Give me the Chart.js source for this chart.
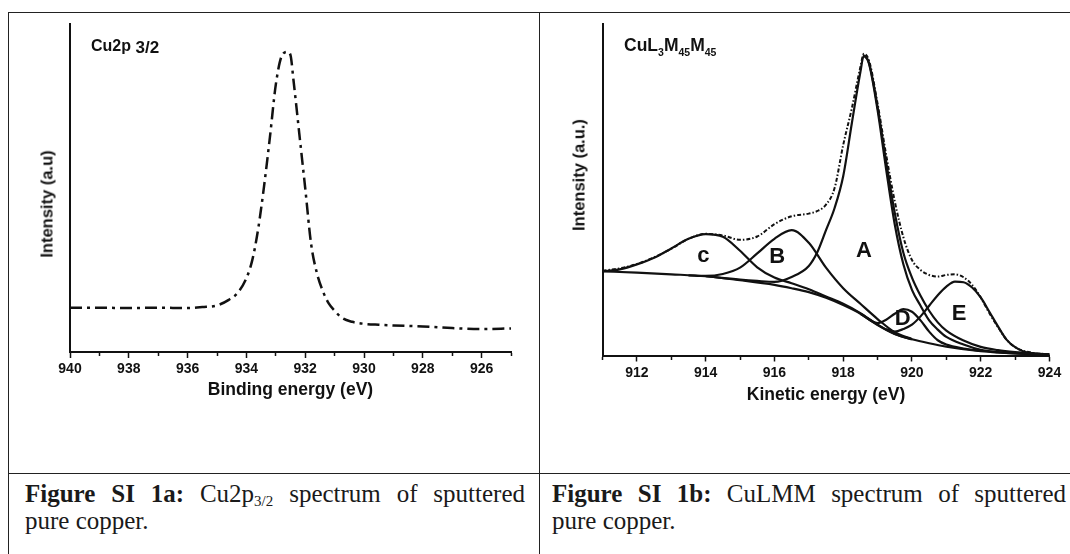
<!DOCTYPE html>
<html>
<head>
<meta charset="utf-8">
<script src="https://cdn.jsdelivr.net/npm/chart.js@4.4.1/dist/chart.umd.min.js"></script>
<style>
  html, body { margin: 0; padding: 0; background: #fff; }
  body { position: relative; width: 1070px; height: 554px; overflow: hidden;
         font-family: "Liberation Sans", Arial, sans-serif; color: #111; }
  .rule { position: absolute; background: #222; }
  canvas { position: absolute; top: 0; }
  #cu2p { left: 0; }
  #culmm { left: 540px; }
  .head { position: absolute; font-weight: bold; line-height: 17px; white-space: nowrap; }
  .head sub { font-size: 10.5px; vertical-align: -5px; line-height: 0; }
  .ytitle { position: absolute; font-weight: bold; font-size: 16.5px; white-space: nowrap;
            transform: translate(-50%, -50%) rotate(-90deg); }
  .caption { position: absolute; top: 480px; font-family: "Liberation Serif", "Times New Roman", serif;
             font-size: 25px; line-height: 27px; color: #1a1a1a; }
  .caption .l1 { text-align: justify; text-align-last: justify; }
  .caption sub { font-size: 15px; vertical-align: -4px; line-height: 0; }
</style>
</head>
<body>
<div class="rule" style="left:8px; top:12px; width:1062px; height:1px;"></div>
<div class="rule" style="left:8px; top:12px; width:1px; height:542px;"></div>
<div class="rule" style="left:539px; top:12px; width:1px; height:542px;"></div>
<div class="rule" style="left:8px; top:473px; width:1062px; height:1px;"></div>

<canvas id="cu2p" width="530" height="410"></canvas>
<canvas id="culmm" width="530" height="410"></canvas>

<div class="head" style="left:91px; top:37px; font-size:16px;">Cu2p <span style="font-size:17px; position:relative; top:2px;">3/2</span></div>
<div class="head" style="left:624px; top:37px; font-size:17.5px;">CuL<sub>3</sub>M<sub>45</sub>M<sub>45</sub></div>

<div class="ytitle" style="left:47px; top:204px;">Intensity (a.u)</div>
<div class="ytitle" style="left:579px; top:175px;">Intensity (a.u.)</div>

<div class="caption" style="left:25px; width:500px;">
  <div class="l1"><b>Figure SI 1a:</b> Cu2p<sub>3/2</sub> spectrum of sputtered</div>
  <div>pure copper.</div>
</div>
<div class="caption" style="left:552px; width:514px;">
  <div class="l1"><b>Figure SI 1b:</b> CuLMM spectrum of sputtered</div>
  <div>pure copper.</div>
</div>

<script>
// --- Cu2p3/2 (binding energy, reversed axis) ---
const bindingEnergy = [940, 939, 938, 937, 936, 935.5, 935, 934.6, 934.3, 934.0, 933.8, 933.6, 933.4, 933.2,
  933.0, 932.8, 932.6, 932.5, 932.4, 932.2, 932.0, 931.8, 931.6, 931.4, 931.2, 931.0, 930.75, 930.4,
  930.0, 929.5, 929, 928, 927, 926, 925];
const cu2pIntensity = [13.5, 13.5, 13.4, 13.5, 13.4, 13.7, 14.2, 15.9, 18.0, 22.5, 28.0, 37.5, 50.5, 65.5,
  81.5, 90.2, 91.5, 90.5, 83.0, 66.5, 50.0, 33.0, 24.0, 18.6, 14.8, 12.6, 10.4, 9.2,
  8.6, 8.3, 8.1, 7.8, 7.3, 7.0, 7.2];
const bindingTicks = [925, 926, 927, 928, 929, 930, 931, 932, 933, 934, 935, 936, 937, 938, 939, 940];

// --- CuL3M45M45 (kinetic energy) ---
const kineticTicks = [911, 912, 913, 914, 915, 916, 917, 918, 919, 920, 921, 922, 923, 924];

const backgroundX = [911, 912, 913, 914, 915, 916, 916.5, 917, 917.5, 918, 918.5, 919, 919.5, 920, 920.5, 921, 922, 923, 924];
const backgroundY = [25.4, 25.0, 24.5, 23.9, 22.7, 21.3, 20.3, 19.1, 17.4, 15.2, 12.6, 9.2, 6.5, 4.9, 3.7, 2.7, 1.3, 0.6, 0.3];

const peakCX = [911, 911.5, 912, 912.5, 913, 913.5, 914, 914.5, 915, 915.5, 916, 916.5, 917, 917.5, 918, 918.5, 919, 919.5, 920];
const peakCY = [25.4, 26.0, 27.5, 29.5, 32.3, 35.2, 36.6, 35.8, 31.6, 26.6, 23.5, 21.8, 20.0, 17.8, 15.6, 12.8, 9.3, 6.5, 4.9];

const peakBX = [913.5, 914, 914.5, 915, 915.5, 916, 916.5, 917, 917.5, 918, 918.5, 919, 919.5, 920];
const peakBY = [24.2, 24.0, 24.6, 26.5, 30.8, 35.2, 37.8, 34.0, 26.5, 20.3, 15.6, 11.0, 7.0, 5.0];

const peakAX = [914, 915, 915.5, 916, 916.5, 917, 917.25, 917.5, 917.75, 918, 918.25, 918.5, 918.6, 918.75,
  919, 919.25, 919.5, 919.75, 920, 920.25, 920.5, 920.75, 921, 921.5, 922, 922.5, 923, 924];
const peakAY = [23.9, 22.9, 22.5, 22.2, 23.7, 27.0, 31.2, 37.8, 44.5, 54.1, 70.0, 85.5, 90.5, 88.0,
  74.0, 56.1, 39.5, 27.5, 19.8, 15.0, 10.6, 7.8, 5.6, 3.3, 1.7, 1.0, 0.6, 0.3];

const peakA2X = [918.6, 918.75, 919, 919.25, 919.5, 919.75, 920, 920.25, 920.5, 920.75, 921, 921.5, 922, 922.5, 923, 923.5, 924];
const peakA2Y = [90.5, 88.3, 75.0, 58.5, 43.0, 31.0, 23.5, 18.0, 13.5, 10.0, 7.5, 4.5, 2.6, 1.6, 1.0, 0.6, 0.3];

const peakDX = [918.5, 919, 919.25, 919.5, 919.75, 920, 920.25, 920.5, 920.75, 921, 921.5, 922];
const peakDY = [12.6, 9.8, 10.8, 12.6, 14.0, 13.2, 10.6, 7.2, 4.6, 3.3, 2.1, 1.4];

const peakEX = [919.25, 919.5, 919.75, 920, 920.25, 920.5, 920.75, 921, 921.25, 921.5, 921.75, 922, 922.25,
  922.5, 922.75, 923, 923.25, 923.5, 924];
const peakEY = [8.0, 7.2, 8.0, 9.3, 11.8, 15.0, 18.2, 20.8, 22.3, 22.1, 20.5, 17.5, 13.2,
  8.8, 4.8, 2.5, 1.2, 0.7, 0.3];

const envelopeX = [911, 911.5, 912, 912.5, 913, 913.5, 914, 914.5, 915, 915.5, 916, 916.5, 917, 917.25, 917.5,
  917.75, 918, 918.25, 918.5, 918.6, 918.75, 919, 919.25, 919.5, 919.75, 920, 920.25, 920.5, 920.75, 921,
  921.25, 921.5, 921.75, 922, 922.25, 922.5, 922.75, 923, 923.5, 924];
const envelopeY = [25.6, 26.3, 27.6, 29.6, 32.2, 35.2, 36.7, 36.2, 34.9, 35.9, 39.6, 42.0, 42.8, 43.6, 45.5,
  50.5, 63.5, 74.5, 87.0, 91.0, 89.0, 76.0, 60.5, 46.5, 35.7, 28.8, 25.8, 24.3, 23.8, 24.3,
  24.5, 23.6, 21.3, 17.5, 12.8, 8.6, 4.8, 2.5, 0.8, 0.4];

const peakNames = ['c', 'B', 'A', 'D', 'E'];
const peakNameX = [913.93, 916.08, 918.6, 919.73, 921.37];
const peakNameY = [30.0, 29.6, 31.6, 11.1, 12.6];

const ink = '#111';
Chart.defaults.font.family = '"Liberation Sans", Arial, sans-serif';
Chart.defaults.color = ink;

function pts(xs, ys) {
  return xs.map((x, i) => ({ x: x, y: ys[i] }));
}

function xAxis(o) {
  return {
    type: 'linear',
    min: o.min,
    max: o.max,
    reverse: !!o.reverse,
    afterBuildTicks: s => { s.ticks = o.ticks.map(v => ({ value: v })); },
    afterFit: s => { s.height = o.height; },
    grid: {
      display: true,
      drawOnChartArea: false,
      drawTicks: true,
      tickLength: 6,
      tickWidth: 1.5,
      tickColor: ink,
      // odd values are minor ticks: only the first 3px of the mark is drawn
      tickBorderDash: c => (c.tick && c.tick.value % 2 !== 0) ? [3, 12] : []
    },
    border: { display: true, color: ink, width: 2 },
    ticks: {
      autoSkip: false,
      maxRotation: 0,
      padding: 3,
      color: ink,
      font: { size: 14, weight: 'bold' },
      callback: v => (v % 2 === 0 ? String(v) : '')
    },
    title: {
      display: true,
      text: o.title,
      color: ink,
      font: { size: 17.5, weight: 'bold' },
      padding: { top: 0, bottom: o.titlePad }
    }
  };
}

function yAxis(width) {
  return {
    type: 'linear',
    min: 0,
    max: 100,
    afterFit: s => { s.width = width; },
    grid: { display: false, drawTicks: false },
    ticks: { display: false },
    border: { display: true, color: ink, width: 2 }
  };
}

const baseOptions = {
  responsive: false,
  animation: false,
  devicePixelRatio: 1,
  plugins: { legend: { display: false }, tooltip: { enabled: false } },
  elements: { point: { radius: 0 }, line: { cubicInterpolationMode: 'monotone' } }
};

// left: Cu2p 3/2
new Chart(document.getElementById('cu2p'), {
  type: 'line',
  data: {
    datasets: [{
      data: pts(bindingEnergy, cu2pIntensity),
      borderColor: ink,
      borderWidth: 2.5,
      borderDash: [12, 5, 3, 5]
    }]
  },
  options: Object.assign({}, baseOptions, {
    layout: { padding: { top: 24, right: 19, left: 0, bottom: 0 } },
    scales: {
      x: xAxis({ min: 925, max: 940, reverse: true, ticks: bindingTicks, height: 58,
                 title: 'Binding energy (eV)', titlePad: 9.5 }),
      y: yAxis(70)
    }
  })
});

// peak letters placed through the chart's own scales
const peakLabelPlugin = {
  id: 'peakLabels',
  afterDatasetsDraw(chart) {
    const { ctx, scales: { x, y } } = chart;
    ctx.save();
    ctx.font = 'bold 22px "Liberation Sans", Arial, sans-serif';
    ctx.fillStyle = ink;
    ctx.textAlign = 'center';
    ctx.textBaseline = 'middle';
    peakNames.forEach((name, i) => {
      ctx.fillText(name, x.getPixelForValue(peakNameX[i]), y.getPixelForValue(peakNameY[i]));
    });
    ctx.restore();
  }
};

const solid = (xs, ys) => ({ data: pts(xs, ys), borderColor: ink, borderWidth: 2.2 });

// right: CuL3M45M45
new Chart(document.getElementById('culmm'), {
  type: 'line',
  data: {
    datasets: [
      solid(backgroundX, backgroundY),
      solid(peakCX, peakCY),
      solid(peakBX, peakBY),
      solid(peakAX, peakAY),
      solid(peakA2X, peakA2Y),
      solid(peakDX, peakDY),
      solid(peakEX, peakEY),
      { data: pts(envelopeX, envelopeY), borderColor: ink, borderWidth: 2, borderDash: [4, 2, 1.5, 2] }
    ]
  },
  options: Object.assign({}, baseOptions, {
    layout: { padding: { top: 24, right: 20.5, left: 0, bottom: 0 } },
    scales: {
      x: xAxis({ min: 911, max: 924, ticks: kineticTicks, height: 54.5,
                 title: 'Kinetic energy (eV)', titlePad: 4.5 }),
      y: yAxis(62.5)
    }
  }),
  plugins: [peakLabelPlugin]
});
</script>
</body>
</html>
